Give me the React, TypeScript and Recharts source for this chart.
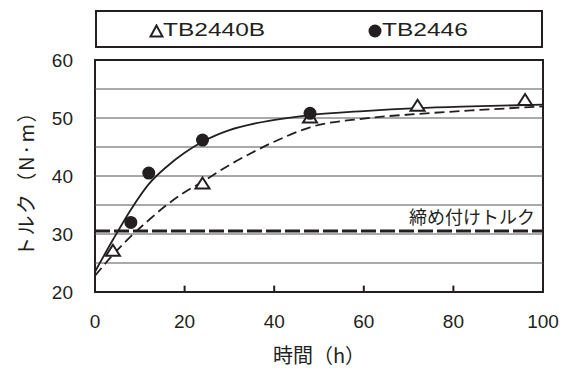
import React from 'react';
import {
  ComposedChart,
  Line,
  Scatter,
  XAxis,
  YAxis,
  ReferenceLine,
  ReferenceArea,
} from 'recharts';

// measured points
const TB2440B_X = [4, 24, 48, 72, 96];
const TB2440B_Y = [27, 38.6, 50, 52, 53];
const TB2446_X = [8, 12, 24, 48];
const TB2446_Y = [32, 40.5, 46.2, 50.8];

// fitted curves
const FIT_X = [0, 4, 8, 12, 16, 20, 24, 30, 36, 42, 48, 60, 72, 84, 100];
const FIT_TB2446 = [23.5, 29.0, 34.2, 38.6, 41.6, 44.0, 45.9, 47.9, 49.1, 49.9, 50.5, 51.2, 51.7, 52.0, 52.3];
const FIT_TB2440B = [22.8, 26.4, 29.6, 32.4, 35.0, 37.2, 39.0, 41.9, 44.4, 46.6, 48.4, 49.9, 50.7, 51.3, 52.0];

const X_TICKS = [0, 20, 40, 60, 80, 100];
const Y_TICKS = [20, 30, 40, 50, 60];
const GRID_Y = [25, 30, 35, 40, 45, 50, 55];
const INNER_TICKS = [20, 40, 60, 80];
const TIGHTEN_TORQUE = 30.5;

const toPoints = (xs: number[], ys: number[]) => xs.map((x, i) => ({ x, y: ys[i] }));

const pointsB = toPoints(TB2440B_X, TB2440B_Y);
const pointsA = toPoints(TB2446_X, TB2446_Y);
const fitA = toPoints(FIT_X, FIT_TB2446);
const fitB = toPoints(FIT_X, FIT_TB2440B);

const FONT = '"Liberation Sans", Arial, sans-serif';
const JP_FONT = '"Noto Sans CJK JP", "Liberation Sans", sans-serif';
const INK = '#231f20';

const Triangle = (props: any) => {
  const { cx, cy } = props;
  const w = 7, h = 11;
  return (
    <polygon
      points={`${cx},${cy - h * 0.6} ${cx - w},${cy + h * 0.4} ${cx + w},${cy + h * 0.4}`}
      fill="#fff"
      stroke={INK}
      strokeWidth={2}
    />
  );
};

const Dot = (props: any) => {
  const { cx, cy } = props;
  return <circle cx={cx} cy={cy} r={6.5} fill={INK} />;
};

const YTitle = () => (
  <text
    x={25}
    y={179}
    transform="rotate(-90, 25, 179)"
    textAnchor="middle"
    dominantBaseline="central"
    fontFamily={JP_FONT}
    fontSize={20}
    letterSpacing={1.5}
    fill={INK}
  >
    トルク（N·m）
  </text>
);

// legend type in the original is a wide gothic, so stretch it a bit
const legendText: React.CSSProperties = {
  position: 'absolute',
  top: 20,
  lineHeight: '21px',
  fontFamily: FONT,
  fontSize: 18,
  color: INK,
  whiteSpace: 'nowrap',
  transform: 'scaleX(1.36)',
  transformOrigin: 'left center',
};

const App = () => {
  return (
    <div style={{ position: 'absolute', left: 0, top: 0, width: 569, height: 368, background: '#fff' }}>
      <div
        style={{
          position: 'absolute',
          left: 95,
          top: 10,
          width: 448,
          height: 38,
          boxSizing: 'border-box',
          border: `2px solid ${INK}`,
        }}
      />
      <svg style={{ position: 'absolute', left: 149, top: 24 }} width={15} height={14}>
        <polygon points="7.5,1.5 1.5,12.5 13.5,12.5" fill="#fff" stroke={INK} strokeWidth={2} />
      </svg>
      <span style={{ ...legendText, left: 163 }}>TB2440B</span>
      <svg style={{ position: 'absolute', left: 368, top: 24 }} width={14} height={14}>
        <circle cx={7} cy={7} r={6.5} fill={INK} />
      </svg>
      <span style={{ ...legendText, left: 382 }}>TB2446</span>
      <ComposedChart width={569} height={368} margin={{ top: 60, right: 26, bottom: 0, left: 0 }}>
        <XAxis
          type="number"
          dataKey="x"
          domain={[0, 100]}
          ticks={X_TICKS}
          axisLine={false}
          tickLine={false}
          tickSize={0}
          tickMargin={23}
          height={76}
          tick={{ fontFamily: FONT, fontSize: 19, fill: INK }}
          label={{
            value: '時間（h）',
            position: 'insideBottom',
            offset: 5,
            style: { fontFamily: JP_FONT, fontSize: 20, fill: INK },
          }}
        />
        <YAxis
          type="number"
          dataKey="y"
          domain={[20, 60]}
          ticks={Y_TICKS}
          axisLine={false}
          tickLine={false}
          tickSize={0}
          tickMargin={22}
          width={95}
          tick={{ fontFamily: FONT, fontSize: 19, fill: INK }}
          label={<YTitle />}
        />
        {GRID_Y.map((v) => (
          <ReferenceLine key={v} y={v} stroke="#555" strokeWidth={1} />
        ))}
        {INNER_TICKS.map((v) => (
          <ReferenceLine
            key={`t${v}`}
            segment={[{ x: v, y: 20 }, { x: v, y: 21.1 }]}
            stroke={INK}
            strokeWidth={2}
          />
        ))}
        <ReferenceLine
          y={TIGHTEN_TORQUE}
          stroke={INK}
          strokeWidth={3}
          strokeDasharray="15 4"
          label={(p: any) => (
            <text
              x={p.viewBox.x + p.viewBox.width - 8}
              y={p.viewBox.y - 7}
              textAnchor="end"
              fontFamily={JP_FONT}
              fontSize={18}
              fill={INK}
            >
              締め付けトルク
            </text>
          )}
        />
        <ReferenceArea x1={0} x2={100} y1={20} y2={60} fill="none" stroke={INK} strokeWidth={2} />
        <Line
          data={fitB}
          dataKey="y"
          type="monotone"
          stroke={INK}
          strokeWidth={1.8}
          strokeDasharray="10 5"
          dot={false}
          isAnimationActive={false}
        />
        <Line
          data={fitA}
          dataKey="y"
          type="monotone"
          stroke={INK}
          strokeWidth={1.8}
          dot={false}
          isAnimationActive={false}
        />
        <Scatter data={pointsB} dataKey="y" shape={<Triangle />} isAnimationActive={false} />
        <Scatter data={pointsA} dataKey="y" shape={<Dot />} isAnimationActive={false} />
      </ComposedChart>
    </div>
  );
};

export default App;
